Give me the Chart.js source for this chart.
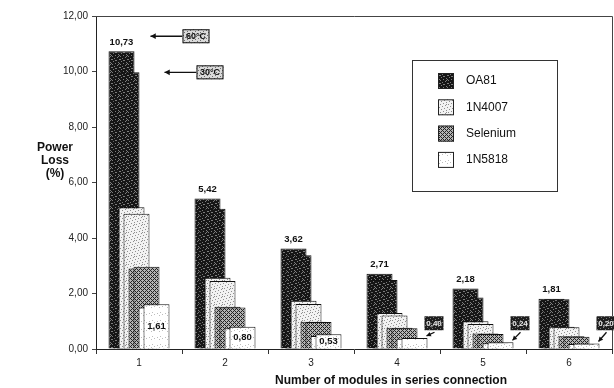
<!DOCTYPE html>
<html>
<head>
<meta charset="utf-8">
<script src="https://cdn.jsdelivr.net/npm/chart.js@4.4.0/dist/chart.umd.min.js"></script>
<style>
  html, body { margin: 0; padding: 0; background: #fff; }
  #wrap { width: 614px; height: 388px; }
</style>
</head>
<body>
<div id="wrap"><canvas id="c" width="614" height="388"></canvas></div>
<script>
// Number of modules connected in series
const categories = ['1', '2', '3', '4', '5', '6'];
const devices = ['OA81', '1N4007', 'Selenium', '1N5818'];

// Power loss (%) per diode type; left bar of each pair = 60°C, right bar = 30°C
const oa81At60     = [10.73, 5.42, 3.62, 2.71, 2.18, 1.81];
const oa81At30     = [9.97, 5.05, 3.38, 2.49, 1.86, 1.79];
const n4007At60    = [5.11, 2.57, 1.74, 1.30, 1.00, 0.80];
const n4007At30    = [4.87, 2.45, 1.62, 1.21, 0.90, 0.78];
const seleniumAt60 = [2.90, 1.52, 0.98, 0.77, 0.56, 0.46];
const seleniumAt30 = [2.96, 1.50, 0.97, 0.75, 0.54, 0.44];
const n5818At60    = [1.50, 0.75, 0.47, 0.37, 0.21, 0.18];
const n5818At30    = [1.61, 0.80, 0.53, 0.40, 0.24, 0.20];

const yTicks = [0, 2, 4, 6, 8, 10, 12];

const FONT = "'Liberation Sans', Arial, sans-serif";
const fmt = v => v.toFixed(2).replace('.', ',');

// small repeating textures for the bar fills
function texture(size, bg, fg, dots) {
  const c = document.createElement('canvas');
  c.width = c.height = size;
  const g = c.getContext('2d');
  g.fillStyle = bg;
  g.fillRect(0, 0, size, size);
  g.fillStyle = fg;
  dots.forEach(([x, y]) => g.fillRect(x, y, 1, 1));
  return g.createPattern(c, 'repeat');
}
function crossHatch(bg, fg) {
  const dots = [];
  for (let x = 0; x < 4; x++) for (let y = 0; y < 4; y++) {
    if ((x + y) % 4 === 0 || (x - y + 4) % 4 === 0) dots.push([x, y]);
  }
  return texture(4, bg, fg, dots);
}

// scattered grain positions on an 8x8 tile
const grain = [[0, 0], [5, 1], [2, 2], [7, 3], [4, 4], [1, 5], [6, 6], [3, 7], [6, 0], [0, 3], [3, 4], [7, 7]];

const fills = {
  'OA81': texture(8, '#161616', '#7c7c7c', grain),
  '1N4007': texture(8, '#f2f2f2', '#8e8e8e', grain.slice(0, 9)),
  'Selenium': crossHatch('#b4b4b4', '#242424'),
  '1N5818': texture(8, '#ffffff', '#bdbdbd', grain.slice(0, 4))
};
const calloutFill = texture(8, '#dadada', '#6e6e6e', grain.slice(0, 8));
const darkFill = texture(8, '#1e1e1e', '#7a7a7a', grain.slice(0, 8));

// bars in left-to-right order inside each group
const series = [
  { device: 'OA81', temp: 60, values: oa81At60 },
  { device: 'OA81', temp: 30, values: oa81At30 },
  { device: '1N4007', temp: 60, values: n4007At60 },
  { device: '1N4007', temp: 30, values: n4007At30 },
  { device: 'Selenium', temp: 60, values: seleniumAt60 },
  { device: 'Selenium', temp: 30, values: seleniumAt30 },
  { device: '1N5818', temp: 60, values: n5818At60 },
  { device: '1N5818', temp: 30, values: n5818At30 }
];

const datasets = series.map(s => ({
  label: s.device + ' ' + s.temp + '°C',
  data: s.values,
  backgroundColor: fills[s.device],
  borderColor: '#111',
  borderWidth: 1,
  categoryPercentage: 0.465,
  barPercentage: 5.2
}));

// overlapping bars: each later bar sits in front of the one before it
const frontToRight = {
  id: 'frontToRight',
  beforeDatasetsDraw(chart) {
    chart.getSortedVisibleDatasetMetas().forEach(m => m.controller.draw());
    return false;
  }
};

function arrow(g, x1, y1, x2, y2, head) {
  g.beginPath();
  g.moveTo(x1, y1);
  g.lineTo(x2, y2);
  g.stroke();
  const a = Math.atan2(y2 - y1, x2 - x1);
  g.beginPath();
  g.moveTo(x2, y2);
  g.lineTo(x2 - head * Math.cos(a - 0.5), y2 - head * Math.sin(a - 0.5));
  g.lineTo(x2 - head * Math.cos(a + 0.5), y2 - head * Math.sin(a + 0.5));
  g.closePath();
  g.fill();
}

const decorations = {
  id: 'decorations',
  afterDraw(chart) {
    const g = chart.ctx;
    const area = chart.chartArea;
    const yS = chart.scales.y;
    g.save();

    // plot frame (top and right edges)
    g.strokeStyle = '#444';
    g.lineWidth = 1;
    g.beginPath();
    g.moveTo(area.left, area.top + 0.5);
    g.lineTo(area.right + 0.5, area.top + 0.5);
    g.lineTo(area.right + 0.5, area.bottom);
    g.stroke();

    g.textAlign = 'center';
    g.textBaseline = 'middle';
    g.fillStyle = '#111';

    // values above the OA81 60°C bars
    const oaBars = chart.getDatasetMeta(0).data;
    g.font = 'bold 9.5px ' + FONT;
    oaBars.forEach((el, i) => g.fillText(fmt(oa81At60[i]), el.x, el.y - 9));

    // values of the 1N5818 bars
    const lastBars = chart.getDatasetMeta(7).data;
    const boxTop = yS.getPixelForValue(1.18);
    lastBars.forEach((el, i) => {
      const txt = fmt(n5818At30[i]);
      if (i < 3) {
        g.fillStyle = '#111';
        g.font = 'bold 9.5px ' + FONT;
        g.fillText(txt, el.x, (el.y + el.base) / 2);
      } else {
        const right = el.x + el.width / 2;
        const bx = right - 3, bw = 19, bh = 14;
        g.fillStyle = darkFill;
        g.fillRect(bx, boxTop, bw, bh);
        g.fillStyle = '#e8e8e8';
        g.font = 'bold 8px ' + FONT;
        g.fillText(txt, bx + bw / 2, boxTop + bh / 2 + 0.5);
        g.strokeStyle = '#111';
        g.fillStyle = '#111';
        g.lineWidth = 1.3;
        arrow(g, bx + 10, boxTop + bh + 2, right - 1, el.y - 2, 5);
      }
    });

    // temperature callouts
    const a0 = chart.getDatasetMeta(0).data[0];
    const b0 = chart.getDatasetMeta(1).data[0];
    const callouts = [
      { text: '60°C', y: a0.y - 15, tip: a0.x + a0.width / 2 + 16 },
      { text: '30°C', y: b0.y, tip: b0.x + b0.width / 2 + 25 }
    ];
    callouts.forEach(c => {
      const bx = c.tip + 32;
      g.strokeStyle = '#111';
      g.fillStyle = '#111';
      g.lineWidth = 1.3;
      arrow(g, bx, c.y, c.tip, c.y, 6);
      g.fillStyle = calloutFill;
      g.fillRect(bx, c.y - 7, 27, 14);
      g.lineWidth = 1;
      g.strokeRect(bx + 0.5, c.y - 6.5, 26, 13);
      g.fillStyle = '#111';
      g.font = 'bold 9px ' + FONT;
      g.fillText(c.text, bx + 13.5, c.y + 0.5);
    });

    // legend
    g.strokeStyle = '#333';
    g.lineWidth = 1;
    g.strokeRect(412.5, 60.5, 145, 131);
    g.textAlign = 'left';
    g.font = '12px ' + FONT;
    devices.forEach((d, i) => {
      const cy = 81 + i * 26.3;
      g.fillStyle = fills[d];
      g.fillRect(438, cy - 8, 16, 16);
      g.strokeStyle = '#222';
      g.strokeRect(438.5, cy - 7.5, 15, 15);
      g.fillStyle = '#111';
      g.fillText(d, 466, cy);
    });

    // axis titles
    g.textAlign = 'center';
    g.font = 'bold 12px ' + FONT;
    ['Power', 'Loss', '(%)'].forEach((t, i) => g.fillText(t, 55, 148 + i * 13));
    g.fillText('Number of modules in series connection', 391, 381);

    g.restore();
  }
};

new Chart(document.getElementById('c'), {
  type: 'bar',
  data: { labels: categories, datasets },
  options: {
    responsive: false,
    animation: false,
    layout: { padding: { top: 16, right: 2, left: 0, bottom: 0 } },
    plugins: { legend: { display: false }, tooltip: { enabled: false } },
    scales: {
      x: {
        offset: true,
        grid: { display: true, offset: true, drawOnChartArea: false, tickLength: 5, color: '#333' },
        border: { display: true, color: '#222', width: 1 },
        ticks: { color: '#222', font: { family: FONT, size: 10 }, padding: 3, maxRotation: 0 },
        afterFit: s => { s.height = 39; }
      },
      y: {
        min: 0,
        max: 12,
        afterBuildTicks: s => { s.ticks = yTicks.map(v => ({ value: v })); },
        grid: { display: true, drawOnChartArea: false, tickLength: 4, color: '#444' },
        border: { display: true, color: '#222', width: 1 },
        ticks: { color: '#222', font: { family: FONT, size: 10 }, padding: 4, callback: v => fmt(v) },
        afterFit: s => { s.width = 96; }
      }
    }
  },
  plugins: [frontToRight, decorations]
});
</script>
</body>
</html>
